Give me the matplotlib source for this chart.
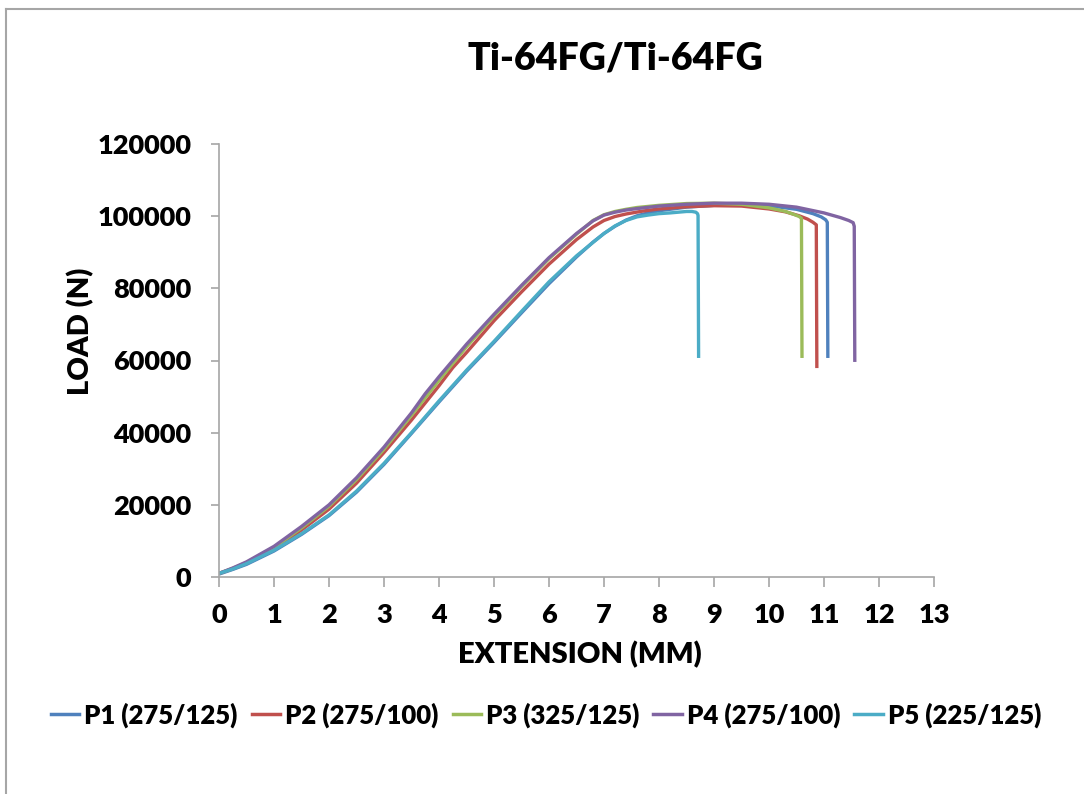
import matplotlib
matplotlib.use("Agg")
import matplotlib.pyplot as plt
from matplotlib.lines import Line2D

plt.rcParams['font.family'] = ['Lato', 'DejaVu Sans']
W = 'heavy'

title = "Ti-64FG/Ti-64FG"
x_label = "EXTENSION (MM)"
y_label = "LOAD (N)"
x_ticks = list(range(0, 14))
y_ticks = [0, 20000, 40000, 60000, 80000, 100000, 120000]

labels = ["P1 (275/125)", "P2 (275/100)", "P3 (325/125)", "P4 (275/100)", "P5 (225/125)"]
colors = ["#4F81BD", "#C0504D", "#9BBB59", "#8064A2", "#4BACC6"]

p1_ext = [0, 0.25, 0.5, 1, 1.5, 2, 2.5, 3, 3.5, 4, 4.5, 5, 5.5, 6, 6.5, 6.8, 7, 7.2, 7.4, 7.6, 7.8, 8, 8.5, 9, 9.5, 10, 10.5, 10.8, 10.95, 11.03, 11.06, 11.07]
p1_load = [800, 2100, 3500, 7200, 11800, 17000, 23500, 31200, 39800, 48500, 57000, 65000, 73200, 81300, 88700, 92800, 95200, 97200, 98900, 100100, 100900, 101500, 102500, 103000, 103100, 102900, 101900, 100700, 99800, 99000, 98300, 60700]

p2_ext = [0, 0.25, 0.5, 1, 1.5, 2, 2.5, 3, 3.5, 4, 4.25, 4.5, 5, 5.5, 6, 6.5, 6.8, 7, 7.2, 7.4, 7.7, 8, 8.5, 9, 9.5, 10, 10.3, 10.55, 10.7, 10.8, 10.86, 10.87]
p2_load = [1000, 2300, 3900, 7900, 13000, 18800, 26000, 34500, 43500, 53000, 58000, 62200, 71000, 79000, 86700, 93500, 97000, 98800, 99900, 100600, 101400, 102000, 102600, 102900, 102800, 102000, 101200, 100100, 99200, 98300, 97600, 57900]

p3_ext = [0, 0.25, 0.5, 1, 1.5, 2, 2.5, 3, 3.5, 4, 4.5, 5, 5.5, 6, 6.5, 6.8, 7, 7.2, 7.4, 7.6, 8, 8.5, 9, 9.5, 10, 10.3, 10.45, 10.55, 10.59, 10.6]
p3_load = [1000, 2400, 4000, 8200, 13600, 19600, 27000, 35400, 44800, 54500, 63800, 72300, 80500, 88200, 95000, 98800, 100400, 101300, 101900, 102400, 103000, 103500, 103600, 103300, 102300, 101300, 100500, 99900, 99400, 60700]

p4_ext = [0, 0.25, 0.5, 1, 1.5, 2, 2.5, 3, 3.5, 3.75, 4, 4.5, 5, 5.5, 6, 6.5, 6.8, 7, 7.2, 7.4, 7.6, 8, 8.5, 9, 9.5, 10, 10.5, 11, 11.3, 11.45, 11.53, 11.55, 11.56]
p4_load = [1000, 2500, 4200, 8500, 14000, 20000, 27500, 36000, 45500, 50800, 55500, 64500, 72800, 80800, 88500, 95200, 98700, 100300, 101100, 101700, 102100, 102800, 103300, 103600, 103600, 103300, 102500, 100900, 99600, 98800, 98200, 97200, 59600]

p5_ext = [0, 0.25, 0.5, 1, 1.5, 2, 2.5, 3, 3.5, 4, 4.5, 5, 5.5, 6, 6.5, 7, 7.2, 7.4, 7.6, 7.8, 8, 8.2, 8.5, 8.6, 8.67, 8.7, 8.71, 8.72]
p5_load = [1000, 2200, 3700, 7400, 12000, 17200, 23800, 31500, 40000, 48800, 57300, 65300, 73600, 81800, 89000, 95200, 97300, 98800, 99800, 100300, 100700, 100900, 101300, 101300, 101100, 100700, 100200, 60700]

series = [(p1_ext, p1_load), (p2_ext, p2_load), (p3_ext, p3_load), (p4_ext, p4_load), (p5_ext, p5_load)]

fig = plt.figure(figsize=(10.84, 7.94), dpi=100)
ax = fig.add_axes([219 / 1084, 1 - 577 / 794, (934 - 219) / 1084, (577 - 144) / 794])

for (xs, ys), c, lab in zip(series, colors, labels):
    ax.plot(xs, ys, color=c, lw=2.4, label=lab, solid_joinstyle='round', solid_capstyle='butt')

ax.set_xlim(0, 13)
ax.set_ylim(0, 120000)
ax.set_xticks(x_ticks)
ax.set_yticks(y_ticks)
ax.set_xticklabels([str(t) for t in x_ticks], fontweight=W)
ax.set_yticklabels([str(t) for t in y_ticks], fontweight=W)
ax.tick_params(axis='both', labelsize=19.5, colors='#A6A6A6', labelcolor='black', width=1.2)
ax.tick_params(axis='x', length=7, pad=12)
ax.tick_params(axis='y', length=6, pad=14)
for s in ['top', 'right']:
    ax.spines[s].set_visible(False)
for s in ['left', 'bottom']:
    ax.spines[s].set_color('#A6A6A6')
    ax.spines[s].set_linewidth(1.2)

# axis titles placed in figure coordinates
fig.text(580 / 1084, 1 - 655 / 794, x_label, fontsize=21, fontweight=W, ha='center', va='center')
fig.text(81 / 1084, 1 - 331 / 794, y_label, fontsize=21, fontweight=W, ha='center', va='center',
         rotation=90)

fig.text(615 / 1084, 1 - 59 / 794, title, fontsize=27, fontweight=W, ha='center', va='center')

handles = [Line2D([0], [0], color=c, lw=2.5) for c in colors]
fig.legend(handles, labels, loc='center', bbox_to_anchor=(546 / 1084, 1 - 715 / 794), ncol=5,
           frameon=False, prop={'size': 18.5, 'weight': W}, handlelength=1.1, handletextpad=0.2,
           columnspacing=0.55)

# outer chart border (left and top edges)
fig.add_artist(Line2D([6 / 1084, 6 / 1084], [0, 1 - 9 / 794], color='#A6A6A6', lw=1.5, transform=fig.transFigure))
fig.add_artist(Line2D([6 / 1084, 1], [1 - 9 / 794, 1 - 9 / 794], color='#A6A6A6', lw=1.5, transform=fig.transFigure))

fig.savefig("out.png", dpi=100, facecolor='white')
